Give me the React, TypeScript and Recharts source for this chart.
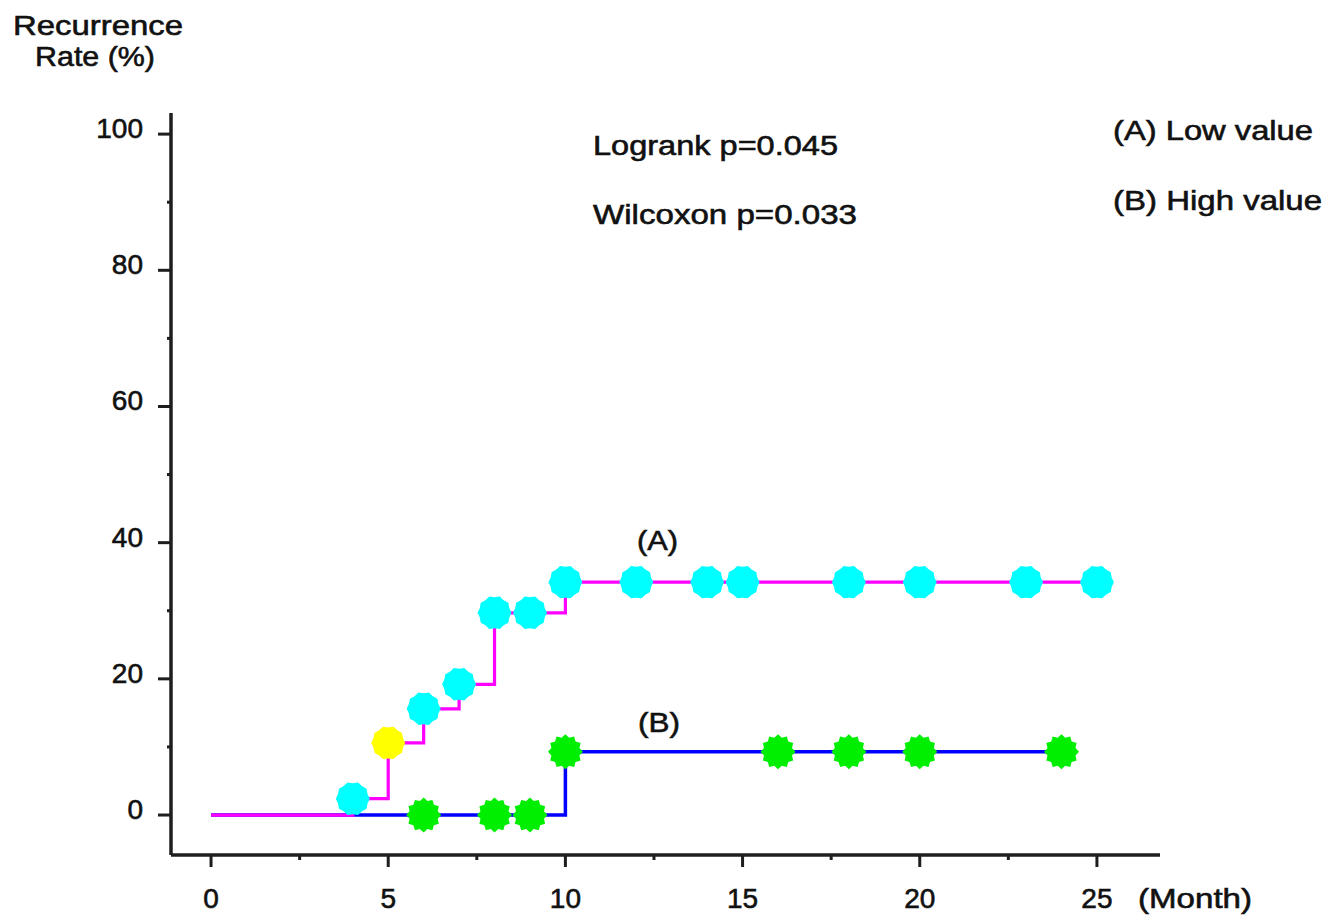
import React from 'react'
import { LineChart, Line, XAxis, YAxis } from 'recharts'

// (A) Low value group
const monthsA = [0, 4, 5, 6, 7, 8, 9, 10, 12, 14, 15, 18, 20, 23, 25]
const rateA = [0, 2.4, 10.6, 15.6, 19.2, 29.7, 29.7, 34.2, 34.2, 34.2, 34.2, 34.2, 34.2, 34.2, 34.2]
// (B) High value group
const monthsB = [0, 6, 8, 9, 10, 16, 18, 20, 24]
const rateB = [0, 0, 0, 0, 9.3, 9.3, 9.3, 9.3, 9.3]

const xTicks = [0, 2.5, 5, 7.5, 10, 12.5, 15, 17.5, 20, 22.5, 25]
const yTicks = [0, 10, 20, 30, 40, 50, 60, 70, 80, 90, 100]
const highlightMonthA = 5

const dataA = monthsA.map((m, i) => ({ month: m, rate: rateA[i] }))
const dataB = monthsB.map((m, i) => ({ month: m, rate: rateB[i] }))

const FONT = '"Liberation Sans", Arial, sans-serif'
const AXIS = '#1e1e1e'

function blob(cx: number, cy: number, outer: number, inner: number, n: number) {
  const pts: string[] = []
  for (let i = 0; i < n * 2; i++) {
    const r = i % 2 === 0 ? outer : inner
    const a = (Math.PI * i) / n
    pts.push(`${(cx + r * Math.cos(a)).toFixed(1)},${(cy + r * Math.sin(a)).toFixed(1)}`)
  }
  return pts.join(' ')
}

const DotA = (props: any) => {
  const { cx, cy, payload, index } = props
  if (payload.month === 0) return <g key={`a${index}`} />
  const fill = payload.month === highlightMonthA ? '#ffff00' : '#00ffff'
  return <polygon key={`a${index}`} points={blob(cx, cy, 17, 15.5, 10)} fill={fill} />
}

const DotB = (props: any) => {
  const { cx, cy, payload, index } = props
  if (payload.month === 0) return <g key={`b${index}`} />
  return <polygon key={`b${index}`} points={blob(cx, cy, 17.5, 14.5, 12)} fill="#00ee00" />
}

const txt = { fontFamily: FONT, fontSize: 28, fill: '#111', stroke: '#111', strokeWidth: 0.6 }

const XTick = (props: any) => {
  const { x, y, payload } = props
  const major = payload.value % 5 === 0
  return (
    <g>
      <line x1={x} x2={x} y1={y} y2={y + (major ? 12 : 5)} stroke={AXIS} strokeWidth={3} />
      {major && (
        <text x={x} y={y + 53} textAnchor="middle" {...txt}>
          {payload.value}
        </text>
      )}
    </g>
  )
}

const YTick = (props: any) => {
  const { x, y, payload } = props
  const major = payload.value % 20 === 0
  return (
    <g>
      <line x1={x} x2={x - (major ? 13 : 4)} y1={y} y2={y} stroke={AXIS} strokeWidth={3} />
      {major && (
        <text x={x - 28} y={y + 4} textAnchor="end" {...txt}>
          {payload.value}
        </text>
      )}
    </g>
  )
}

const Note = ({ x, y, w, children }: { x: number; y: number; w: number; children: string }) => (
  <text x={x} y={y} textLength={w} lengthAdjust="spacingAndGlyphs" {...txt}>
    {children}
  </text>
)

export default function App() {
  return (
    <div style={{ position: 'absolute', left: 0, top: 0, width: 1338, height: 915, background: '#fff' }}>
      <LineChart width={1338} height={915} margin={{ top: 113, right: 178, bottom: 0, left: 111 }}>
        <XAxis
          type="number"
          dataKey="month"
          domain={[-1.13, 26.78]}
          allowDataOverflow
          ticks={xTicks}
          interval={0}
          height={60}
          tickSize={0}
          tickMargin={0}
          tickLine={false}
          axisLine={{ stroke: AXIS, strokeWidth: 3.5 }}
          tick={<XTick />}
        />
        <YAxis
          type="number"
          dataKey="rate"
          domain={[-5.87, 103.1]}
          allowDataOverflow
          ticks={yTicks}
          interval={0}
          width={60}
          tickSize={0}
          tickMargin={0}
          tickLine={false}
          axisLine={{ stroke: AXIS, strokeWidth: 3.5 }}
          tick={<YTick />}
        />
        <Line
          data={dataB}
          dataKey="rate"
          type="stepAfter"
          stroke="#0000ff"
          strokeWidth={3.5}
          dot={DotB}
          activeDot={false}
          isAnimationActive={false}
        />
        <Line
          data={dataA}
          dataKey="rate"
          type="stepAfter"
          stroke="#ff00ff"
          strokeWidth={3.2}
          dot={DotA}
          activeDot={false}
          isAnimationActive={false}
        />
      </LineChart>
      <svg
        width={1338}
        height={915}
        style={{ position: 'absolute', left: 0, top: 0, pointerEvents: 'none' }}
      >
        <Note x={13} y={35} w={170}>Recurrence</Note>
        <Note x={35} y={66} w={120}>Rate (%)</Note>
        <Note x={593} y={155} w={245}>Logrank p=0.045</Note>
        <Note x={593} y={224} w={264}>Wilcoxon p=0.033</Note>
        <Note x={1113} y={140} w={200}>(A) Low value</Note>
        <Note x={1113} y={210} w={209}>(B) High value</Note>
        <Note x={637} y={550} w={41}>(A)</Note>
        <Note x={638} y={732} w={42}>(B)</Note>
        <Note x={1138} y={908} w={114}>(Month)</Note>
      </svg>
    </div>
  )
}
